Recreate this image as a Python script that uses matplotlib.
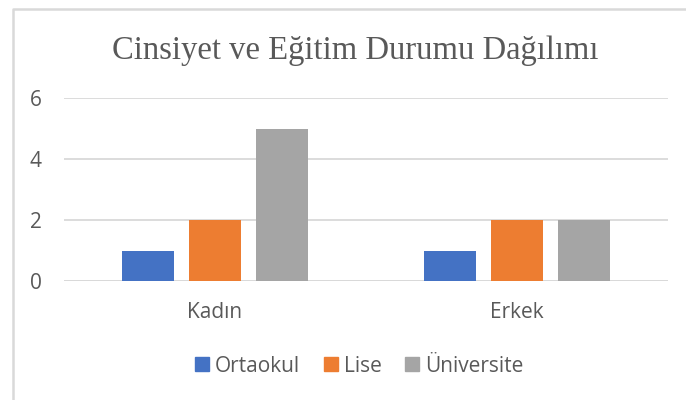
import matplotlib
matplotlib.use("Agg")
import matplotlib.pyplot as plt
from matplotlib.lines import Line2D
import numpy as np

categories = ['Kadın', 'Erkek']
series = ['Ortaokul', 'Lise', 'Üniversite']
values = {
    'Ortaokul': [1, 1],
    'Lise': [2, 2],
    'Üniversite': [5, 2],
}
colors = ['#4472C4', '#ED7D31', '#A5A5A5']
yticks = [0, 2, 4, 6]

text_color = '#595959'
grid_color = '#D9D9D9'

fig = plt.figure(figsize=(6.86, 4.0), dpi=100)
ax = fig.add_axes([64 / 686, 1 - 281 / 400, (668 - 64) / 686, (281 - 98) / 400])

x = np.arange(len(categories))
width = 0.175
step = 0.222
for i, (name, c) in enumerate(zip(series, colors)):
    ax.bar(x + (i - 1) * step, values[name], width, color=c, label=name, zorder=3)

ax.set_xlim(-0.5, 1.5)
ax.set_ylim(0, 6)
ax.set_yticks(yticks)
ax.set_xticks(x)
ax.set_xticklabels(categories)
ax.yaxis.grid(True, color=grid_color, linewidth=1.3, zorder=0)
for s in ax.spines.values():
    s.set_visible(False)
ax.axhline(0, color=grid_color, linewidth=1.3, zorder=1)
ax.tick_params(axis='both', length=0, labelsize=15, labelcolor=text_color,
               labelfontfamily='Open Sans')
ax.tick_params(axis='y', pad=16)
ax.tick_params(axis='x', pad=15)

fig.text(355 / 686, 1 - 51 / 400, 'Cinsiyet ve Eğitim Durumu Dağılımı',
         ha='center', va='center', fontsize=23.5, color=text_color,
         family='Liberation Serif')

handles = [Line2D([], [], marker='s', linestyle='none', markersize=10,
                  markerfacecolor=c, markeredgecolor=c) for c in colors]
fig.legend(handles, series, loc='center', bbox_to_anchor=(358 / 686, 1 - 366 / 400),
           ncol=3, frameon=False, handletextpad=0.18, columnspacing=1.0,
           prop={'family': 'Open Sans', 'size': 15}, labelcolor=text_color,
           handlelength=0.9)

# chart area border (top and left edges visible)
fig.add_artist(Line2D([12.5 / 686, 12.5 / 686, 1.0], [0, 1 - 8.5 / 400, 1 - 8.5 / 400],
                      transform=fig.transFigure, color=grid_color, linewidth=1.8))

fig.savefig('out.png', dpi=100)
